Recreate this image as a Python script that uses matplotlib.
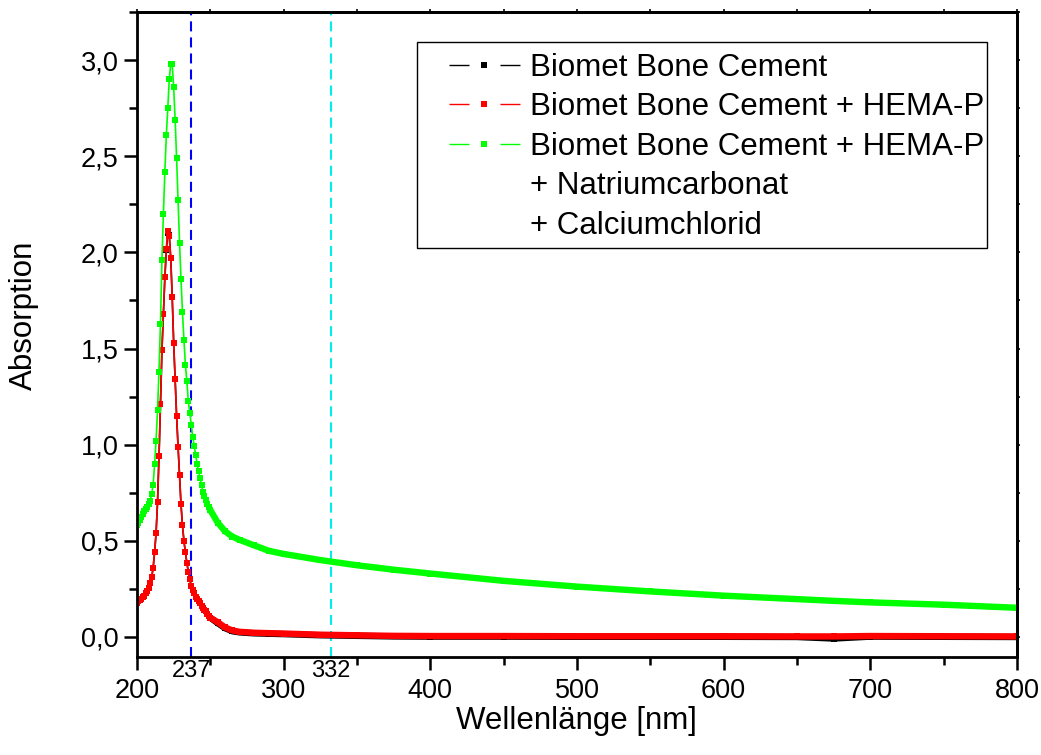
import matplotlib
matplotlib.use('Agg')
import matplotlib.pyplot as plt
from matplotlib.lines import Line2D
from matplotlib.patches import Rectangle
from matplotlib.ticker import MultipleLocator, FuncFormatter

plt.rcParams['font.family'] = ['Liberation Sans', 'DejaVu Sans']

# wavelength grid: 1 nm steps over the peak, coarser in the flat tail
wl_peak = list(range(200, 251))
wl_tail = [255, 260, 265, 270, 280, 290, 300, 325, 350, 375, 400, 450,
           500, 550, 600, 650, 675, 700, 750, 800]
wavelength = wl_peak + wl_tail

abs_black = [0.175, 0.185, 0.19, 0.20, 0.21, 0.215, 0.228, 0.24, 0.255, 0.28,
             0.31, 0.36, 0.44, 0.54, 0.70, 0.94, 1.21, 1.49, 1.68, 1.87,
             2.01, 2.10, 2.09, 1.97, 1.77, 1.53, 1.34, 1.15, 0.99, 0.84,
             0.69, 0.58, 0.50, 0.44, 0.385, 0.34, 0.30, 0.265, 0.245, 0.228,
             0.21, 0.196, 0.185, 0.175, 0.163, 0.152, 0.142, 0.133, 0.122, 0.111,
             0.10,
             0.072, 0.046, 0.030, 0.024, 0.019, 0.017, 0.015, 0.009, 0.006, 0.003,
             0.002, 0.002, 0.001, 0.001, 0.001, 0.0, -0.008, 0.002, 0.001, 0.0]
abs_red = [0.175, 0.185, 0.19, 0.20, 0.21, 0.215, 0.228, 0.24, 0.255, 0.28,
           0.31, 0.36, 0.44, 0.54, 0.70, 0.94, 1.21, 1.49, 1.68, 1.87,
           2.02, 2.11, 2.085, 1.97, 1.77, 1.53, 1.34, 1.15, 0.99, 0.84,
           0.69, 0.58, 0.50, 0.44, 0.385, 0.34, 0.30, 0.265, 0.245, 0.228,
           0.21, 0.196, 0.185, 0.175, 0.163, 0.152, 0.142, 0.133, 0.122, 0.111,
           0.10,
           0.077, 0.05, 0.034, 0.027, 0.022, 0.02, 0.018, 0.012, 0.009, 0.006,
           0.005, 0.005, 0.004, 0.004, 0.004, 0.003, 0.003, 0.005, 0.004, 0.003]
abs_green = [0.58, 0.595, 0.61, 0.625, 0.64, 0.655, 0.665, 0.675, 0.69, 0.705,
             0.745, 0.79, 0.90, 1.02, 1.18, 1.38, 1.63, 1.96, 2.20, 2.42,
             2.61, 2.75, 2.90, 2.98, 2.98, 2.86, 2.69, 2.49, 2.27, 2.05,
             1.86, 1.69, 1.545, 1.415, 1.33, 1.225, 1.165, 1.105, 1.042, 0.995,
             0.945, 0.90, 0.862, 0.826, 0.79, 0.755, 0.735, 0.71, 0.69, 0.675,
             0.66,
             0.595, 0.55, 0.522, 0.505, 0.476, 0.448, 0.432, 0.40, 0.373, 0.35,
             0.33, 0.292, 0.262, 0.237, 0.215, 0.197, 0.188, 0.18, 0.168, 0.152]

labels = ['Biomet Bone Cement',
          'Biomet Bone Cement + HEMA-P',
          'Biomet Bone Cement + HEMA-P']
extra_lines = ['+ Natriumcarbonat', '+ Calciumchlorid']
colors = ['#000000', '#ff0000', '#00ff00']
marks = [237, 332]
mark_colors = ['#0000ff', '#00eeee']

fig = plt.figure(figsize=(10.41, 7.55), dpi=100)
ax = fig.add_axes([137 / 1041, 98 / 755, 880 / 1041, 645 / 755])

tail_start = len(wl_peak) - 1
for vals, c in zip([abs_black, abs_red, abs_green], colors):
    ax.plot(wavelength, vals, color=c, lw=1.2, marker='s', ms=4, mew=0)
    # dense measurement points in the tail merge into a thick band
    ax.plot(wavelength[tail_start:], vals[tail_start:], color=c, lw=4.6,
            solid_capstyle='butt')

for m, c in zip(marks, mark_colors):
    ax.axvline(m, color=c, lw=1.5, ls=(0, (4.8, 2.9)), zorder=1)
    ax.annotate(str(m), xy=(m, 0), xycoords=('data', 'axes fraction'),
                xytext=(0, -2), textcoords='offset points',
                ha='center', va='top', fontsize=17)

ax.set_xlim(200, 800)
ax.set_ylim(-0.104, 3.25)
ax.xaxis.set_major_locator(MultipleLocator(100))
ax.xaxis.set_minor_locator(MultipleLocator(50))
ax.yaxis.set_major_locator(MultipleLocator(0.5))
ax.yaxis.set_minor_locator(MultipleLocator(0.25))
ax.yaxis.set_major_formatter(FuncFormatter(lambda v, p: f'{v:.1f}'.replace('.', ',')))
ax.tick_params(which='major', direction='out', length=9.4, width=1.8,
               labelsize=19.5)
ax.tick_params(axis='x', which='major', pad=6)
ax.tick_params(axis='y', which='major', pad=4)
ax.tick_params(which='minor', direction='out', length=5.8, width=1.8)
for s in ax.spines.values():
    s.set_linewidth(2)

# small ticks on the top and right frame
top = ax.secondary_xaxis('top')
top.xaxis.set_major_locator(MultipleLocator(50))
top.tick_params(direction='out', length=2.5, width=1.2, labeltop=False)
right = ax.secondary_yaxis('right')
right.yaxis.set_major_locator(MultipleLocator(0.25))
right.tick_params(direction='out', length=2.5, width=1.2, labelright=False)
for s in list(top.spines.values()) + list(right.spines.values()):
    s.set_linewidth(2)

fig.text(576 / 1041, 1 - 721 / 755, 'Wellenlänge [nm]', ha='center',
         va='center', fontsize=22.5)
fig.text(24 / 1041, 1 - 315 / 755, 'Absorption', ha='center', va='center',
         rotation=90, fontsize=22.5)

handles = [Line2D([], [], color=c, lw=1, ls=(0, (14.4, 22.3)), marker='s',
                  ms=4, mew=0) for c in colors]
handles += [Line2D([], [], ls='none') for _ in extra_lines]
fig.legend(handles, labels + extra_lines, loc='upper left',
           bbox_to_anchor=(449 / 1041, 1 - 53 / 755), frameon=False,
           fontsize=22.5, borderpad=0, borderaxespad=0, handlelength=2.27,
           handletextpad=0.32, labelspacing=0.3, numpoints=1)
fig.add_artist(Rectangle((417 / 1041, 1 - 248 / 755), 570 / 1041, 206 / 755,
                         transform=fig.transFigure, fill=False, lw=1,
                         ec='black'))

fig.savefig('out.png', dpi=100)
